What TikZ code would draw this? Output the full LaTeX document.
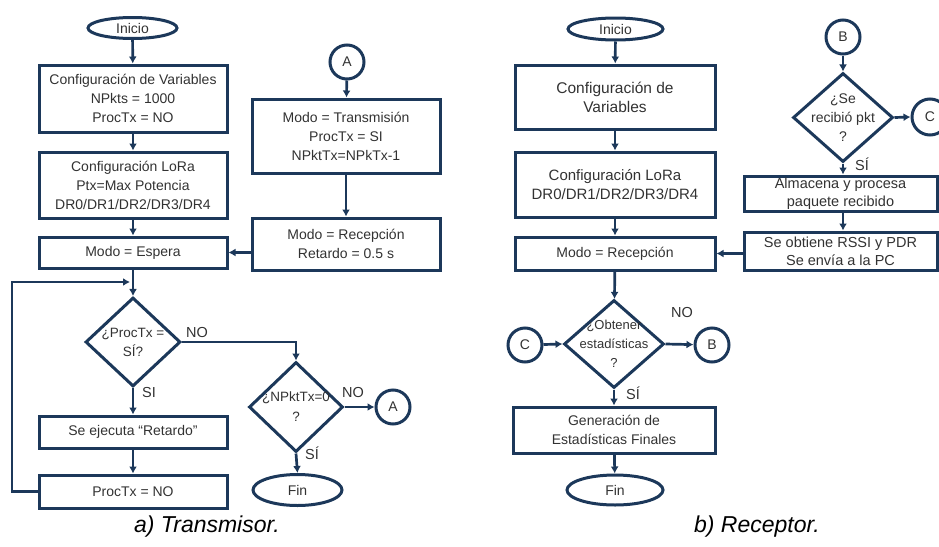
\documentclass[tikz,border=0pt]{standalone}
\usepackage{fontspec}
\setmainfont{Liberation Sans}
\usetikzlibrary{shapes.geometric,arrows.meta}
\definecolor{navy}{RGB}{28,56,90}
\definecolor{txt}{RGB}{50,50,50}
\begin{document}
\begin{tikzpicture}[x=1pt,y=-1pt,
  every node/.style={text=txt, font=\fontsize{14}{19}\selectfont},
  base/.style={draw=navy, line width=3pt, inner sep=0pt, align=center},
  box/.style={base, rectangle},
  term/.style={base, ellipse},
  conn/.style={base, circle, minimum size=34pt},
  dec/.style={base, diamond},
  arr/.style={draw=navy, line width=2.7pt, -{Latex[length=7pt,width=8pt]}},
  lab/.style={font=\fontsize{14.5}{16}\selectfont},
  captext/.style={font=\fontsize{23}{26}\selectfont\itshape, text=black}
]
\useasboundingbox (0,0) rectangle (939,546);
% ---------- a) Transmisor ----------
\node[term, minimum width=89pt, minimum height=21pt] (ini1) at (132.5,28) {Inicio};
\node[box, minimum width=188pt, minimum height=67pt] (v1) at (133,98.5) {Configuración de Variables\\NPkts = 1000\\ProcTx = NO};
\node[box, minimum width=188pt, minimum height=66pt] (l1) at (133,185) {Configuración LoRa\\Ptx=Max Potencia\\DR0/DR1/DR2/DR3/DR4};
\node[box, minimum width=188pt, minimum height=31pt] (e1) at (133,252.5) {Modo = Espera};
\node[conn] (A1) at (347,62) {A};
\node[box, minimum width=188pt, minimum height=74pt] (t1) at (346,136) {Modo = Transmisión\\ProcTx = SI\\NPktTx=NPkTx-1};
\node[box, minimum width=188pt, minimum height=52pt] (r1) at (346,244) {Modo = Recepción\\Retardo = 0.5 s};
\node[dec, minimum width=95pt, minimum height=89pt, label={[align=center, font=\fontsize{13.5}{19}\selectfont]center:¿ProcTx =\\SÍ?}] (d1) at (133,342) {};
\node[dec, minimum width=94pt, minimum height=90pt, label={[align=center, font=\fontsize{13.5}{20}\selectfont]center:¿NPktTx=0\\?}] (d2) at (296,407) {};
\node[conn] (A2) at (393,407) {A};
\node[term, minimum width=89pt, minimum height=31pt] (f1) at (297.5,490) {Fin};
\node[box, minimum width=188pt, minimum height=32pt] (s1) at (133,432) {Se ejecuta “Retardo”};
\node[box, minimum width=188pt, minimum height=33pt] (p1) at (133,491.5) {ProcTx = NO};
\coordinate (lp) at (133,282);
\coordinate (lc) at (12,282);

\draw[arr] (ini1) -- (v1);
\draw[arr] (v1) -- (l1);
\draw[arr] (l1) -- (e1);
\draw[arr] (e1) -- (d1);
\draw[arr] (A1) -- (t1);
\draw[arr] (t1) -- (r1);
\draw[arr] (r1.west |- e1.east) -- (e1.east);
\draw[arr] (d1.east) -- (d1.east -| d2.north) -- (d2.north);
\node[lab] (no1) at (197,333) {NO};
\draw[arr] (d1.south) -- (s1.north);
\node[lab] (si1) at (149,393) {SI};
\draw[arr] (s1) -- (p1);
\draw[arr] (p1.west) -- (p1.west -| lc) -- (lc) -- ([xshift=-3pt]lp);
\draw[arr] (d2.east) -- (A2.west);
\node[lab] (no2) at (353,393) {NO};
\draw[arr] (d2.south) -- (f1.north);
\node[lab] (si2) at (312,453) {SÍ};
\node[captext] (capa) at (207,527) {a) Transmisor.};

% ---------- b) Receptor ----------
\node[term, minimum width=95pt, minimum height=22pt] (ini2) at (615.5,29) {Inicio};
\node[box, minimum width=200pt, minimum height=64pt, font=\fontsize{15.5}{19}\selectfont] (v2) at (615,97) {Configuración de\\Variables};
\node[box, minimum width=200pt, minimum height=65pt, font=\fontsize{15}{19}\selectfont] (l2) at (615,184.5) {Configuración LoRa\\DR0/DR1/DR2/DR3/DR4};
\node[box, minimum width=200pt, minimum height=33pt] (rc2) at (615,253.5) {Modo = Recepción};
\node[conn] (B1) at (843,37) {B};
\node[dec, minimum width=100pt, minimum height=89pt, label={[align=center, font=\fontsize{14}{19}\selectfont]center:¿Se\\recibió pkt\\?}] (d3) at (843,117.5) {};
\node[conn, minimum size=36pt] (C1) at (930,117) {C};
\node[lab] (si3) at (862,164) {SÍ};
\node[box, minimum width=193pt, minimum height=35pt, font=\fontsize{14.5}{18}\selectfont] (al) at (840.5,193.5) {Almacena y procesa\\paquete recibido};
\node[box, minimum width=193pt, minimum height=38pt, font=\fontsize{14.5}{18}\selectfont] (so) at (840.5,251) {Se obtiene RSSI y PDR\\Se envía a la PC};
\node[dec, minimum width=100pt, minimum height=88pt, label={[align=center, font=\fontsize{13}{19}\selectfont]center:¿Obtener\\estadísticas\\?}] (d4) at (614,344) {};
\node[conn] (C2) at (525,345) {C};
\node[conn] (B2) at (712,345) {B};
\node[lab] (no3) at (682,313) {NO};
\node[lab] (si4) at (633,393) {SÍ};
\node[box, minimum width=202pt, minimum height=46pt] (g) at (614,430) {Generación de\\Estadísticas Finales};
\node[term, minimum width=96pt, minimum height=30pt] (f2) at (615,490) {Fin};
\node[captext] (capb) at (757,527) {b) Receptor.};

\draw[arr] (ini2) -- (v2);
\draw[arr] (v2) -- (l2);
\draw[arr] (l2) -- (rc2);
\draw[arr] (rc2) -- (d4);
\draw[arr] (B1) -- (d3);
\draw[arr] (d3.east) -- (C1.west);
\draw[arr] (d3.south) -- (al.north -| d3.south);
\draw[arr] (al.south -| d3.south) -- (so.north -| d3.south);
\draw[arr] (so.west |- rc2.east) -- (rc2.east);
\draw[arr] (C2) -- (d4.west);
\draw[arr] (d4.east) -- (B2);
\draw[arr] (d4.south) -- (g.north);
\draw[arr] (g) -- (f2);
\end{tikzpicture}
\end{document}
